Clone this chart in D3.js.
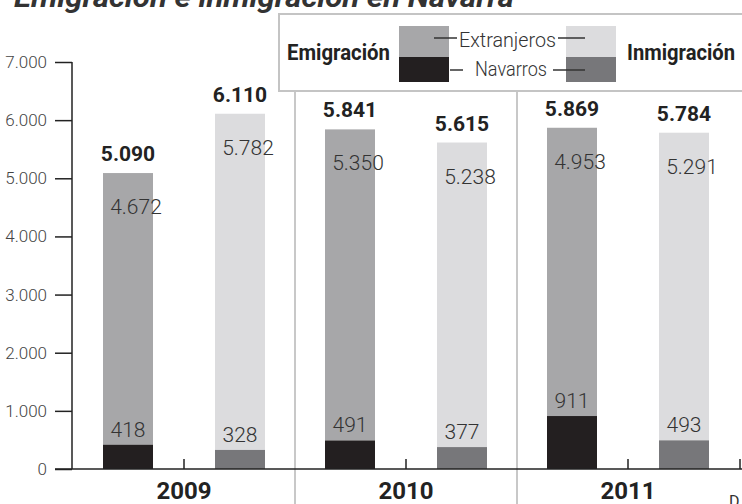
<!DOCTYPE html>
<html>
<head>
<meta charset="utf-8">
<script src="https://d3js.org/d3.v7.min.js"></script>
<style>
  body { margin: 0; background: #fff; }
  svg { display: block; }
  text { font-family: Roboto, "Liberation Sans", sans-serif; }
</style>
</head>
<body>
<svg id="chart" width="742" height="504"></svg>
<script>
// data
var years = ["2009", "2010", "2011"];
var emigExtranjeros = [4672, 5350, 4953];
var emigNavarros = [418, 491, 911];
var emigTotal = [5090, 5841, 5869];
var inmigExtranjeros = [5782, 5238, 5291];
var inmigNavarros = [328, 377, 493];
var inmigTotal = [6110, 5615, 5784];
var yTicks = [0, 1000, 2000, 3000, 4000, 5000, 6000, 7000];

var colors = {
    emigExt: "#a7a7a9",
    emigNav: "#231f20",
    inmigExt: "#dcdcde",
    inmigNav: "#77777a"
};

var es = d3.formatLocale({decimal: ",", thousands: ".", grouping: [3], currency: ["", " €"]});
var fmt = es.format(",d");

var svg = d3.select("#chart");

var y = d3.scaleLinear().domain([0, 7000]).range([469, 62]);
var x = d3.scalePoint().domain(years).range([184, 628]);
var barW = 50, off = 56;

// title, cut off at the top of the picture
svg.append("text")
    .attr("x", 14).attr("y", 7)
    .attr("font-size", 28).attr("font-weight", 700).attr("font-style", "italic")
    .attr("fill", "#333")
    .attr("textLength", 500).attr("lengthAdjust", "spacingAndGlyphs")
    .text("Emigración e inmigración en Navarra");

// legend box
svg.append("rect")
    .attr("x", 279).attr("y", 14).attr("width", 470).attr("height", 77)
    .attr("fill", "none").attr("stroke", "#c4c4c4").attr("stroke-width", 2);

// separators between years
[295, 517].forEach(function (sx) {
    svg.append("line")
        .attr("x1", sx).attr("x2", sx).attr("y1", 92).attr("y2", 504)
        .attr("stroke", "#c8c8c8").attr("stroke-width", 2);
});

// legend content
var lg = svg.append("g");
lg.append("rect").attr("x", 399).attr("y", 26).attr("width", 50).attr("height", 31).attr("fill", colors.emigExt);
lg.append("rect").attr("x", 399).attr("y", 57).attr("width", 50).attr("height", 25).attr("fill", colors.emigNav);
lg.append("rect").attr("x", 566).attr("y", 26).attr("width", 50).attr("height", 31).attr("fill", colors.inmigExt);
lg.append("rect").attr("x", 566).attr("y", 57).attr("width", 50).attr("height", 25).attr("fill", colors.inmigNav);

lg.append("text").attr("x", 287).attr("y", 60)
    .attr("font-size", 22).attr("font-weight", 700).attr("fill", "#222")
    .attr("textLength", 103).attr("lengthAdjust", "spacingAndGlyphs")
    .text("Emigración");
lg.append("text").attr("x", 627).attr("y", 60)
    .attr("font-size", 22).attr("font-weight", 700).attr("fill", "#222")
    .attr("textLength", 108).attr("lengthAdjust", "spacingAndGlyphs")
    .text("Inmigración");

var legLines = [[434, 457, 38], [558, 585, 38], [450, 463, 70], [553, 585, 70]];
legLines.forEach(function (l) {
    lg.append("line").attr("x1", l[0]).attr("x2", l[1]).attr("y1", l[2]).attr("y2", l[2])
        .attr("stroke", "#333").attr("stroke-width", 1.5);
});
lg.append("text").attr("x", 459).attr("y", 47)
    .attr("font-size", 21).attr("font-weight", 300).attr("fill", "#333")
    .attr("textLength", 97).attr("lengthAdjust", "spacingAndGlyphs")
    .text("Extranjeros");
lg.append("text").attr("x", 475).attr("y", 76)
    .attr("font-size", 21).attr("font-weight", 300).attr("fill", "#333")
    .attr("textLength", 72).attr("lengthAdjust", "spacingAndGlyphs")
    .text("Navarros");

// y axis
var yAxis = svg.append("g").attr("transform", "translate(72,0)")
    .call(d3.axisLeft(y).tickValues(yTicks).tickSize(17).tickPadding(8).tickFormat(fmt));
yAxis.select(".domain").attr("d", "M0," + y(7000) + "V" + y(0)).attr("stroke", "#222").attr("stroke-width", 1.5);
yAxis.selectAll(".tick line").attr("stroke", "#222").attr("stroke-width", 1.5);
yAxis.selectAll(".tick text")
    .attr("font-family", "Roboto, sans-serif")
    .attr("font-size", 17).attr("font-weight", 300).attr("fill", "#444");

// bars
var data = years.map(function (yr, i) {
    return {
        year: yr,
        groups: [
            {side: -1, ext: emigExtranjeros[i], nav: emigNavarros[i], total: emigTotal[i], cExt: colors.emigExt, cNav: colors.emigNav},
            {side: 1, ext: inmigExtranjeros[i], nav: inmigNavarros[i], total: inmigTotal[i], cExt: colors.inmigExt, cNav: colors.inmigNav}
        ]
    };
});

var yearG = svg.selectAll(".year").data(data).enter().append("g")
    .attr("class", "year")
    .attr("transform", function (d) { return "translate(" + x(d.year) + ",0)"; });

var bar = yearG.selectAll(".bar").data(function (d) { return d.groups; }).enter().append("g")
    .attr("class", "bar")
    .attr("transform", function (d) { return "translate(" + (d.side * off - barW / 2) + ",0)"; });

bar.append("rect")
    .attr("x", 0).attr("width", barW)
    .attr("y", function (d) { return y(d.total); })
    .attr("height", function (d) { return y(d.nav) - y(d.total); })
    .attr("fill", function (d) { return d.cExt; });
bar.append("rect")
    .attr("x", 0).attr("width", barW)
    .attr("y", function (d) { return y(d.nav); })
    .attr("height", function (d) { return y(0) - y(d.nav); })
    .attr("fill", function (d) { return d.cNav; });

// totals
bar.append("text")
    .attr("x", barW / 2).attr("y", function (d) { return y(d.total) - 12; })
    .attr("text-anchor", "middle")
    .attr("font-size", 21).attr("font-weight", 700).attr("fill", "#222")
    .text(function (d) { return fmt(d.total); });
// extranjeros
bar.append("text")
    .attr("x", barW / 2 + 8).attr("y", function (d) { return y(d.total) + 41; })
    .attr("text-anchor", "middle")
    .attr("font-size", 21).attr("font-weight", 300).attr("fill", "#333")
    .text(function (d) { return fmt(d.ext); });
// navarros
bar.append("text")
    .attr("x", barW / 2).attr("y", function (d) { return y(d.nav) - 8; })
    .attr("text-anchor", "middle")
    .attr("font-size", 21).attr("font-weight", 300).attr("fill", "#333")
    .text(function (d) { return fmt(d.nav); });

// x baseline with small ticks
svg.append("line").attr("x1", 55).attr("x2", 742).attr("y1", y(0)).attr("y2", y(0))
    .attr("stroke", "#222").attr("stroke-width", 1.5);
years.concat(["end"]).forEach(function (yr) {
    var tx = yr === "end" ? 740 : x(yr);
    svg.append("line").attr("x1", tx).attr("x2", tx).attr("y1", y(0) - 10).attr("y2", y(0))
        .attr("stroke", "#222").attr("stroke-width", 1.5);
});

// year labels
yearG.append("text")
    .attr("x", 0).attr("y", 499)
    .attr("text-anchor", "middle")
    .attr("font-size", 24).attr("font-weight", 700).attr("fill", "#222")
    .text(function (d) { return d.year; });

// source mark, cut off at bottom right
svg.append("text").attr("x", 729).attr("y", 507)
    .attr("font-family", "'DejaVu Serif', serif")
    .attr("font-size", 16).attr("fill", "#333")
    .text("D");
</script>
</body>
</html>
